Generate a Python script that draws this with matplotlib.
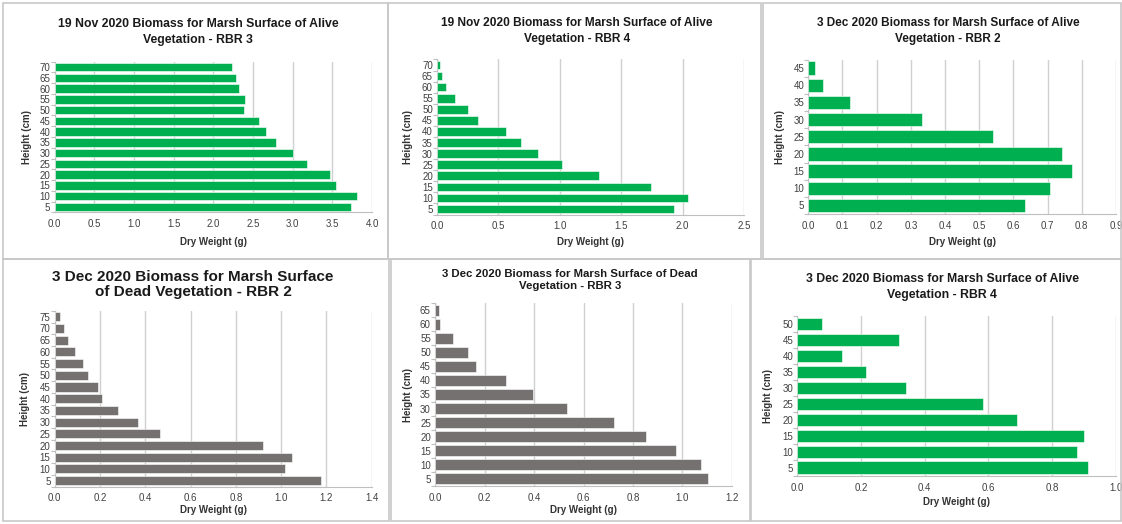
import matplotlib
matplotlib.use("Agg")
import matplotlib.pyplot as plt
from matplotlib.patches import Rectangle
import numpy as np

plt.rcParams['font.family'] = ['Liberation Sans Narrow', 'Liberation Sans', 'DejaVu Sans']

W, H = 1122, 524
GREEN = "#00B050"
GREY = "#767171"

# data (heights in cm, dry weight in g)
h1 = [5, 10, 15, 20, 25, 30, 35, 40, 45, 50, 55, 60, 65, 70]
w1 = [3.74, 3.81, 3.55, 3.47, 3.18, 3.01, 2.79, 2.66, 2.58, 2.39, 2.40, 2.33, 2.29, 2.24]

h2 = [5, 10, 15, 20, 25, 30, 35, 40, 45, 50, 55, 60, 65, 70]
w2 = [1.93, 2.04, 1.74, 1.32, 1.02, 0.82, 0.68, 0.56, 0.33, 0.25, 0.15, 0.07, 0.04, 0.027]

h3 = [5, 10, 15, 20, 25, 30, 35, 40, 45]
w3 = [0.634, 0.708, 0.772, 0.741, 0.539, 0.332, 0.122, 0.043, 0.019]

h4 = [5, 10, 15, 20, 25, 30, 35, 40, 45, 50, 55, 60, 65, 70, 75]
w4 = [1.175, 1.016, 1.046, 0.918, 0.466, 0.366, 0.281, 0.21, 0.193, 0.146, 0.127, 0.09, 0.057, 0.043, 0.023]

h5 = [5, 10, 15, 20, 25, 30, 35, 40, 45, 50, 55, 60, 65]
w5 = [1.103, 1.075, 0.972, 0.853, 0.723, 0.532, 0.395, 0.287, 0.165, 0.134, 0.071, 0.02, 0.015]

h6 = [5, 10, 15, 20, 25, 30, 35, 40, 45, 50]
w6 = [0.912, 0.879, 0.899, 0.691, 0.584, 0.34, 0.217, 0.139, 0.318, 0.079]

titles = [
    "19 Nov 2020 Biomass for Marsh Surface of Alive\nVegetation - RBR 3",
    "19 Nov 2020 Biomass for Marsh Surface of Alive\nVegetation - RBR 4",
    "3 Dec 2020 Biomass for Marsh Surface of Alive\nVegetation - RBR 2",
    "3 Dec 2020 Biomass for Marsh Surface\nof Dead Vegetation - RBR 2",
    "3 Dec 2020 Biomass for Marsh Surface of Dead\nVegetation - RBR 3",
    "3 Dec 2020 Biomass for Marsh Surface of Alive\nVegetation - RBR 4",
]

fig = plt.figure(figsize=(W / 100, H / 100), dpi=100)
fig.patch.set_facecolor("white")

def fx(x):
    return x / W

def fy(y):
    return 1 - y / H

# panel frames (pixel boxes: x0, y0, x1, y1)
frames = [(3, 3, 388, 259), (388, 3, 761, 259), (763, 3, 1121, 259),
          (3, 259, 389, 521), (391, 259, 750, 521), (751, 259, 1121, 521)]
for x0, y0, x1, y1 in frames:
    fig.patches.append(Rectangle((fx(x0), fy(y1)), fx(x1 - x0), (y1 - y0) / H,
                                 transform=fig.transFigure, fill=False,
                                 edgecolor="#c8c8c8", linewidth=1.2))

# panel specs: data, colour, axes box in px, xmax, step, title pos, title size, line spacing, xlabel y, ylabel x
panels = [
    (h1, w1, GREEN, (54.5, 61.6, 372, 212.4), 4.0, 0.5, (198, 32), 8.8, 1.45, 242, 27),
    (h2, w2, GREEN, (437, 59.5, 744, 214.5), 2.5, 0.5, (577, 31), 8.6, 1.45, 242, 408),
    (h3, w3, GREEN, (808.3, 59.5, 1116, 214), 0.9, 0.1, (948, 31), 8.5, 1.45, 242, 780),
    (h4, w4, GREY, (54.7, 310.8, 371.7, 486.5), 1.4, 0.2, (193, 284.5), 11, 1.05, 510, 25),
    (h5, w5, GREY, (435, 303, 732, 486), 1.2, 0.2, (570, 280), 8.2, 1.3, 510, 408),
    (h6, w6, GREEN, (797.3, 316, 1115.7, 475.7), 1.0, 0.2, (942, 287), 8.8, 1.45, 502, 768),
]

for (hs, ws, col, box, xmax, step, tpos, tsize, tls, xly, ylx), title in zip(panels, titles):
    x0, y0, x1, y1 = box
    ax = fig.add_axes([fx(x0), fy(y1), fx(x1 - x0), (y1 - y0) / H])
    pos = np.arange(len(hs))
    ax.barh(pos, ws, height=0.78, color=col, edgecolor="white", linewidth=0.4, zorder=3)
    ax.set_ylim(-0.5, len(hs) - 0.5)
    ax.set_xlim(0, xmax)
    ax.set_xticks(np.arange(0, xmax + step / 2, step))
    ax.xaxis.set_major_formatter(plt.FormatStrFormatter("%.1f"))
    ax.set_yticks(pos)
    ax.set_yticklabels([str(h) for h in hs])
    ax.set_yticks(np.arange(-0.5, len(hs), 1), minor=True)
    ax.tick_params(axis="y", which="major", length=0, pad=3, labelsize=7, colors="#404040")
    ax.tick_params(axis="y", which="minor", length=3, color="#bfbfbf", width=0.8)
    ax.tick_params(axis="x", length=0, pad=5, labelsize=7, colors="#404040")
    ax.grid(axis="x", color="#d0d0d0", linewidth=1, zorder=0)
    ax.set_axisbelow(True)
    for s in ["top", "right"]:
        ax.spines[s].set_visible(False)
    for s in ["left", "bottom"]:
        ax.spines[s].set_color("#bfbfbf")
        ax.spines[s].set_linewidth(0.8)
    fig.text(fx(tpos[0]), fy(tpos[1]), title, ha="center", va="center",
             fontsize=tsize, fontweight="bold", linespacing=tls, color="#1a1a1a")
    fig.text(fx((x0 + x1) / 2), fy(xly), "Dry Weight (g)", ha="center", va="center",
             fontsize=7, fontweight="bold", color="#333333")
    fig.text(fx(ylx), fy((y0 + y1) / 2), "Height (cm)", ha="center", va="center",
             rotation=90, fontsize=7, fontweight="bold", color="#333333")

fig.savefig("out.png", dpi=100)
